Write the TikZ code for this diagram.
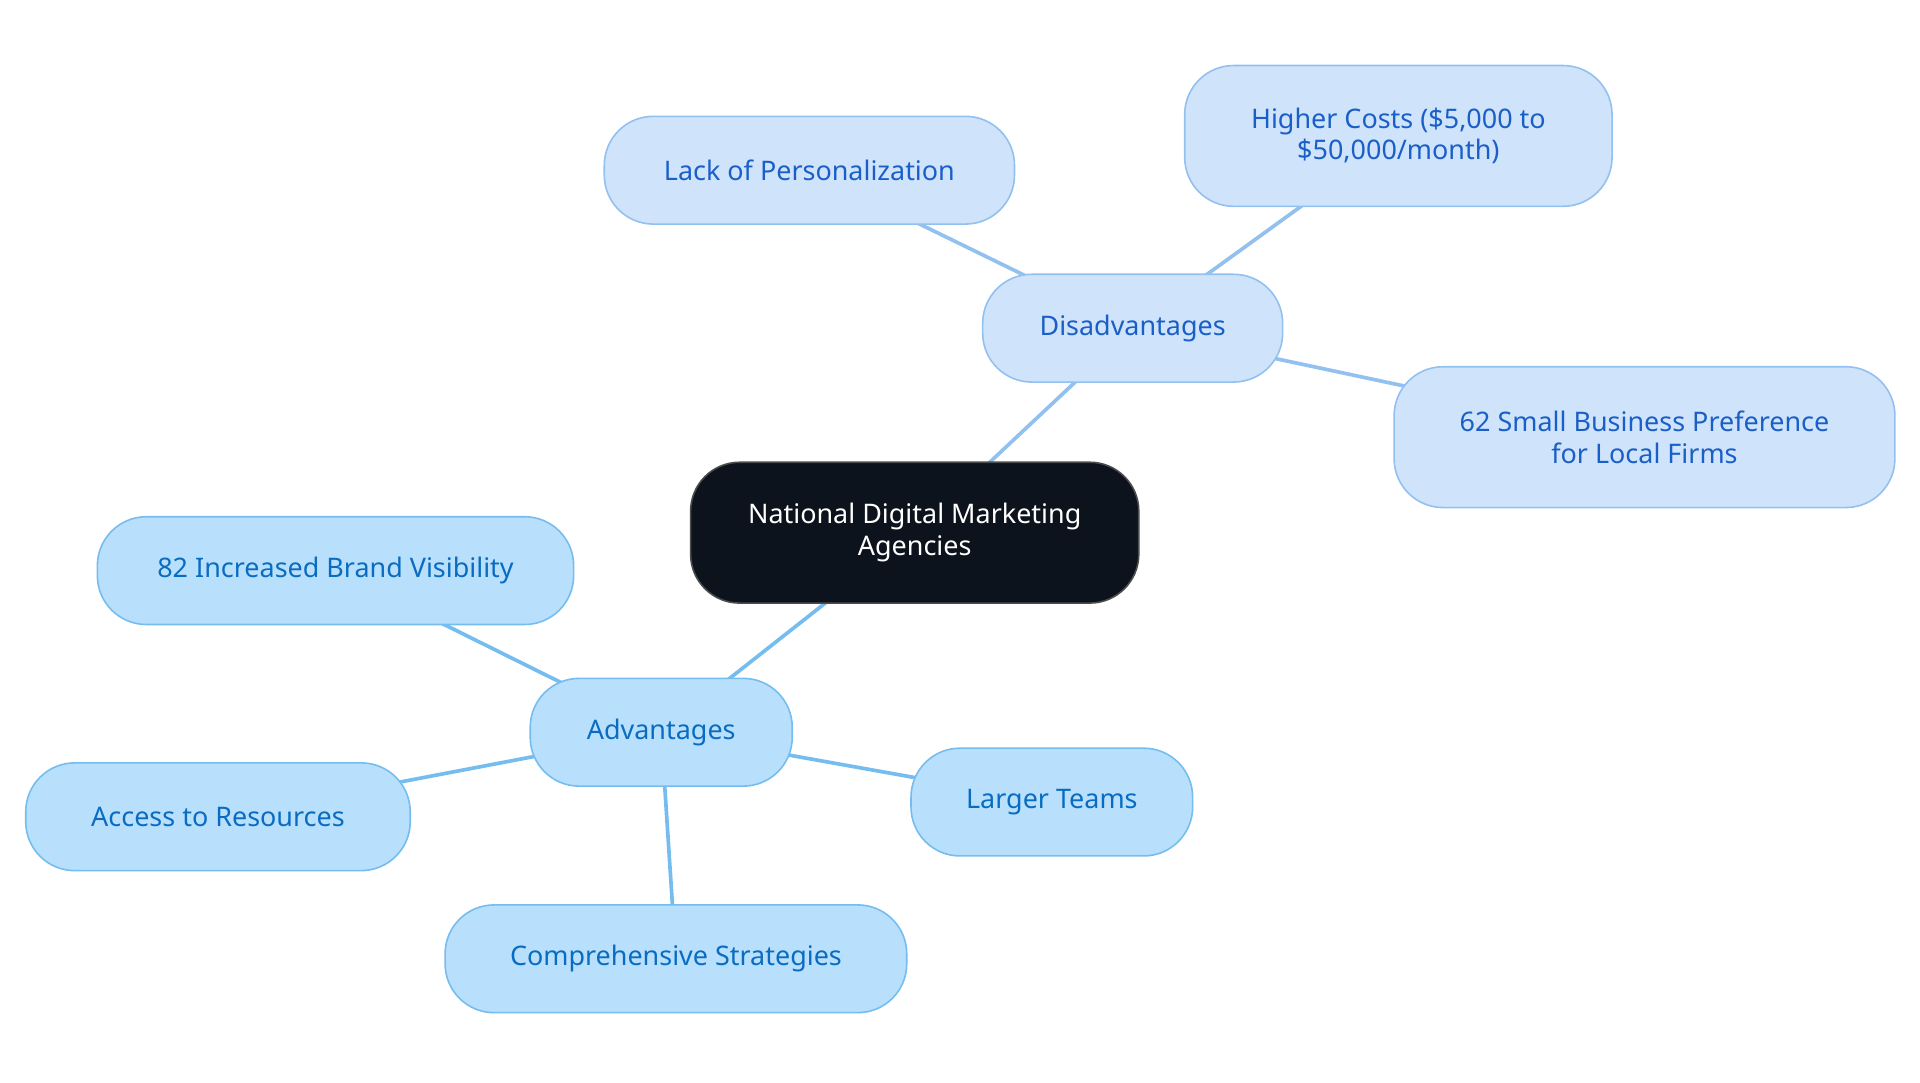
\documentclass[tikz,border=0pt]{standalone}
\usepackage{fontspec}
\setmainfont{Noto Sans}
\usetikzlibrary{backgrounds}
\definecolor{cfill}{HTML}{0D131C}
\definecolor{dfill}{HTML}{CFE3FB}
\definecolor{dline}{HTML}{92C0EF}
\definecolor{dtext}{HTML}{1A5FC8}
\definecolor{afill}{HTML}{B8E0FD}
\definecolor{aline}{HTML}{74BDEE}
\definecolor{atext}{HTML}{0A6CC0}
\begin{document}
\begin{tikzpicture}[x=1pt,y=-1pt,
  base/.style={rounded corners=40pt,draw,line width=1.3pt,align=center,inner sep=0pt,font=\fontsize{22}{26}\selectfont},
  cnode/.style={base,fill=cfill,draw=black!70,text=white},
  dnode/.style={base,fill=dfill,draw=dline,text=dtext},
  anode/.style={base,fill=afill,draw=aline,text=atext},
  dedge/.style={draw=dline,line width=3pt},
  aedge/.style={draw=aline,line width=3pt}]
\useasboundingbox (0,0) rectangle (1568,884);
\node[cnode,minimum width=366pt,minimum height=115pt] (c) at (747,435) {National Digital Marketing\\Agencies};
\node[dnode,minimum width=245pt,minimum height=88pt] (d) at (925,268) {Disadvantages};
\node[dnode,minimum width=335pt,minimum height=88pt] (d1) at (661,139) {Lack of Personalization};
\node[dnode,minimum width=349pt,minimum height=115pt] (d2) at (1142,111) {Higher Costs (\$5,000 to\\\$50,000/month)};
\node[dnode,minimum width=409pt,minimum height=115pt] (d3) at (1343,357) {62 Small Business Preference\\for Local Firms};
\node[anode,minimum width=214pt,minimum height=88pt] (a) at (540,598) {Advantages};
\node[anode,minimum width=389pt,minimum height=88pt] (a1) at (274,466) {82 Increased Brand Visibility};
\node[anode,minimum width=314pt,minimum height=88pt] (a2) at (178,667) {Access to Resources};
\node[anode,minimum width=377pt,minimum height=88pt] (a3) at (552,783) {Comprehensive Strategies};
\node[anode,minimum width=230pt,minimum height=88pt] (a4) at (859,655) {Larger Teams};
\begin{scope}[on background layer]
\draw[dedge] (c.center) -- (d.center);
\draw[dedge] (d.center) -- (d1.center);
\draw[dedge] (d.center) -- (d2.center);
\draw[dedge] (d.center) -- (d3.center);
\draw[aedge] (c.center) -- (a.center);
\draw[aedge] (a.center) -- (a1.center);
\draw[aedge] (a.center) -- (a2.center);
\draw[aedge] (a.center) -- (a3.center);
\draw[aedge] (a.center) -- (a4.center);
\end{scope}
\end{tikzpicture}
\end{document}
